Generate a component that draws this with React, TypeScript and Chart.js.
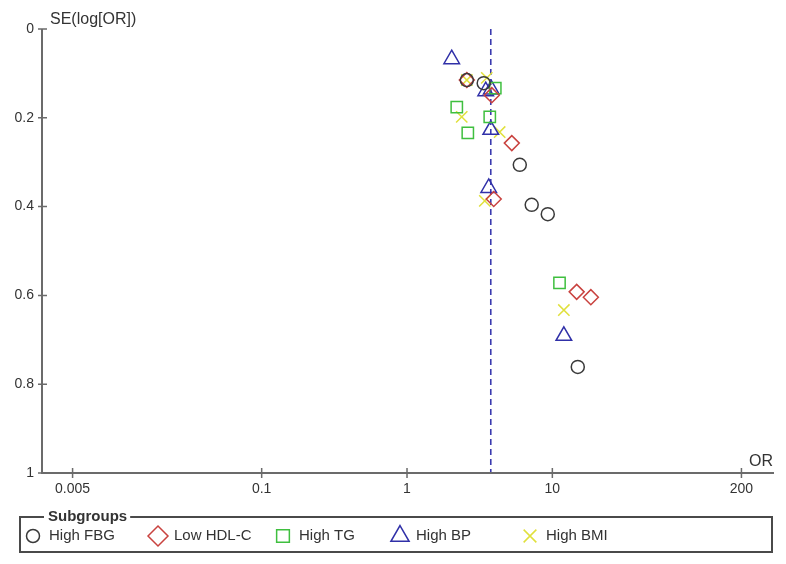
import React, { useEffect, useRef } from 'react';
import { Chart, registerables } from 'chart.js';

Chart.register(...registerables);

// ---- data ----
const SERIES_NAMES = ['High FBG', 'Low HDL-C', 'High TG', 'High BP', 'High BMI'];

const FBG_OR = [2.58, 3.37, 5.97, 7.21, 9.3, 14.96];
const FBG_SE = [0.115, 0.122, 0.306, 0.396, 0.417, 0.761];

const HDL_OR = [2.58, 3.83, 5.26, 3.95, 14.7, 18.4];
const HDL_SE = [0.115, 0.149, 0.257, 0.383, 0.592, 0.604];

const TG_OR = [4.05, 2.2, 3.71, 2.62, 11.2];
const TG_SE = [0.133, 0.176, 0.198, 0.234, 0.572];

const BP_OR = [2.03, 3.48, 3.8, 3.77, 3.65, 12.0];
const BP_SE = [0.068, 0.14, 0.136, 0.227, 0.358, 0.691];

const BMI_OR = [2.58, 3.54, 2.38, 4.34, 3.43, 12.0];
const BMI_SE = [0.115, 0.11, 0.198, 0.232, 0.387, 0.633];

const POOLED_OR = 3.77;

const X_TICKS = [0.005, 0.1, 1, 10, 200];
const Y_TICKS = [0, 0.2, 0.4, 0.6, 0.8, 1];

const X_MIN = 0.00308;
const X_MAX = 335;

const Y_TITLE = 'SE(log[OR])';
const X_TITLE = 'OR';
const LEGEND_TITLE = 'Subgroups';

// ---- styles ----
const FONT = '"Liberation Sans", Arial, sans-serif';
const AXIS_COLOR = '#6b6b6b';
const TEXT_COLOR = '#333333';

const STYLES = [
  { style: 'circle', color: '#3a3a3a', r: 6.5, lr: 6.5 },
  { style: 'rectRot', color: '#c9423f', r: 7.5, lr: 10 },
  { style: 'rect', color: '#3fbf3f', r: 8, lr: 9 },
  { style: 'triangle', color: '#3030a8', r: 9, lr: 10.5 },
  { style: 'crossRot', color: '#e0e03c', r: 8, lr: 9 },
];

const SERIES_OR = [FBG_OR, HDL_OR, TG_OR, BP_OR, BMI_OR];
const SERIES_SE = [FBG_SE, HDL_SE, TG_SE, BP_SE, BMI_SE];

const LEGEND_MARKER_X = [33, 158, 283, 400, 530];

function drawMarker(ctx: CanvasRenderingContext2D, style: string, x: number, y: number, r: number) {
  ctx.beginPath();
  if (style === 'circle') {
    ctx.arc(x, y, r, 0, Math.PI * 2);
  } else if (style === 'rectRot') {
    ctx.moveTo(x - r, y);
    ctx.lineTo(x, y - r);
    ctx.lineTo(x + r, y);
    ctx.lineTo(x, y + r);
    ctx.closePath();
  } else if (style === 'rect') {
    const s = r * Math.SQRT1_2;
    ctx.rect(x - s, y - s, 2 * s, 2 * s);
  } else if (style === 'triangle') {
    let a = 0;
    ctx.moveTo(x + Math.sin(a) * r, y - Math.cos(a) * r);
    a += (2 * Math.PI) / 3;
    ctx.lineTo(x + Math.sin(a) * r, y - Math.cos(a) * r);
    a += (2 * Math.PI) / 3;
    ctx.lineTo(x + Math.sin(a) * r, y - Math.cos(a) * r);
    ctx.closePath();
  } else if (style === 'crossRot') {
    const o = r * Math.SQRT1_2;
    ctx.moveTo(x - o, y - o);
    ctx.lineTo(x + o, y + o);
    ctx.moveTo(x + o, y - o);
    ctx.lineTo(x - o, y + o);
  }
  ctx.stroke();
}

const funnelPlugin = {
  id: 'funnelDecor',
  beforeDatasetsDraw(chart: any) {
    const { ctx, chartArea, scales } = chart;
    const xs = scales.x;
    const ys = scales.y;
    ctx.save();
    // dashed pooled line
    const px = xs.getPixelForValue(POOLED_OR);
    ctx.strokeStyle = '#3a3ab0';
    ctx.lineWidth = 1.6;
    ctx.setLineDash([6, 4]);
    ctx.beginPath();
    ctx.moveTo(px, chartArea.top);
    ctx.lineTo(px, chartArea.bottom);
    ctx.stroke();
    ctx.setLineDash([]);

    // axes
    ctx.strokeStyle = AXIS_COLOR;
    ctx.lineWidth = 2;
    ctx.beginPath();
    ctx.moveTo(chartArea.left, chartArea.top);
    ctx.lineTo(chartArea.left, chartArea.bottom);
    ctx.moveTo(chartArea.left - 1, chartArea.bottom);
    ctx.lineTo(chartArea.right, chartArea.bottom);
    ctx.stroke();

    // tick marks
    ctx.lineWidth = 1.5;
    ctx.beginPath();
    X_TICKS.forEach((v) => {
      const p = xs.getPixelForValue(v);
      ctx.moveTo(p, chartArea.bottom - 5);
      ctx.lineTo(p, chartArea.bottom + 5);
    });
    Y_TICKS.forEach((v) => {
      const p = ys.getPixelForValue(v);
      ctx.moveTo(chartArea.left - 4, p);
      ctx.lineTo(chartArea.left + 5, p);
    });
    ctx.stroke();

    // axis titles
    ctx.fillStyle = TEXT_COLOR;
    ctx.font = `16px ${FONT}`;
    ctx.textBaseline = 'middle';
    ctx.textAlign = 'left';
    ctx.fillText(Y_TITLE, chartArea.left + 8, 20);
    ctx.textAlign = 'right';
    ctx.fillText(X_TITLE, chartArea.right - 1, chartArea.bottom - 11);
    ctx.restore();
  },
  afterDraw(chart: any) {
    const { ctx } = chart;
    ctx.save();
    const left = 20, right = 772, top = 517, bottom = 552;
    ctx.font = `bold 15px ${FONT}`;
    const tw = ctx.measureText(LEGEND_TITLE).width;
    const titleX = 48;
    ctx.strokeStyle = '#4a4a4a';
    ctx.lineWidth = 2;
    ctx.beginPath();
    ctx.moveTo(titleX - 4, top);
    ctx.lineTo(left, top);
    ctx.lineTo(left, bottom);
    ctx.lineTo(right, bottom);
    ctx.lineTo(right, top);
    ctx.lineTo(titleX + tw + 3, top);
    ctx.stroke();
    ctx.fillStyle = TEXT_COLOR;
    ctx.textBaseline = 'middle';
    ctx.textAlign = 'left';
    ctx.fillText(LEGEND_TITLE, titleX, top);

    const cy = 536;
    ctx.font = `15px ${FONT}`;
    SERIES_NAMES.forEach((name, i) => {
      const st = STYLES[i];
      const mx = LEGEND_MARKER_X[i];
      ctx.strokeStyle = st.color;
      ctx.lineWidth = 1.5;
      drawMarker(ctx, st.style, mx, cy, st.lr);
      ctx.fillStyle = TEXT_COLOR;
      ctx.fillText(name, mx + 16, cy);
    });
    ctx.restore();
  },
};

export default function App() {
  const ref = useRef<HTMLCanvasElement | null>(null);
  useEffect(() => {
    document.body.style.margin = '0';
    const canvas = ref.current;
    if (!canvas) return;
    const datasets = SERIES_NAMES.map((name, i) => ({
      label: name,
      data: SERIES_OR[i].map((x, j) => ({ x, y: SERIES_SE[i][j] })),
      pointStyle: STYLES[i].style,
      pointRadius: STYLES[i].r,
      pointHoverRadius: STYLES[i].r,
      borderColor: STYLES[i].color,
      backgroundColor: 'rgba(0,0,0,0)',
      pointBorderWidth: 1.5,
      showLine: false,
    }));
    const chart = new Chart(canvas, {
      type: 'scatter',
      data: { datasets: datasets as any },
      options: {
        animation: false,
        responsive: false,
        maintainAspectRatio: false,
        layout: { padding: { left: 0, top: 29, right: 12, bottom: 0 } },
        plugins: { legend: { display: false }, tooltip: { enabled: false } },
        scales: {
          x: {
            type: 'logarithmic',
            position: 'bottom',
            min: X_MIN,
            max: X_MAX,
            afterBuildTicks: (s: any) => {
              s.ticks = X_TICKS.map((v) => ({ value: v }));
            },
            afterFit: (s: any) => {
              s.height = 91;
            },
            ticks: {
              autoSkip: false,
              maxRotation: 0,
              padding: 8,
              color: TEXT_COLOR,
              font: { family: FONT, size: 14 },
              callback: (v: any) => String(v),
            },
            grid: { display: false, drawTicks: false },
            border: { display: false },
          },
          y: {
            type: 'linear',
            reverse: true,
            min: 0,
            max: 1,
            afterBuildTicks: (s: any) => {
              s.ticks = Y_TICKS.map((v) => ({ value: v }));
            },
            afterFit: (s: any) => {
              s.width = 42;
            },
            ticks: {
              padding: 8,
              color: TEXT_COLOR,
              font: { family: FONT, size: 14 },
              callback: (v: any) => String(Number(Number(v).toFixed(1))),
            },
            grid: { display: false, drawTicks: false },
            border: { display: false },
          },
        },
      },
      plugins: [funnelPlugin],
    });
    return () => chart.destroy();
  }, []);
  return (
    <div style={{ position: 'absolute', left: 0, top: 0, width: 786, height: 564, background: '#fff' }}>
      <canvas ref={ref} width={786} height={564} style={{ display: 'block' }} />
    </div>
  );
}
